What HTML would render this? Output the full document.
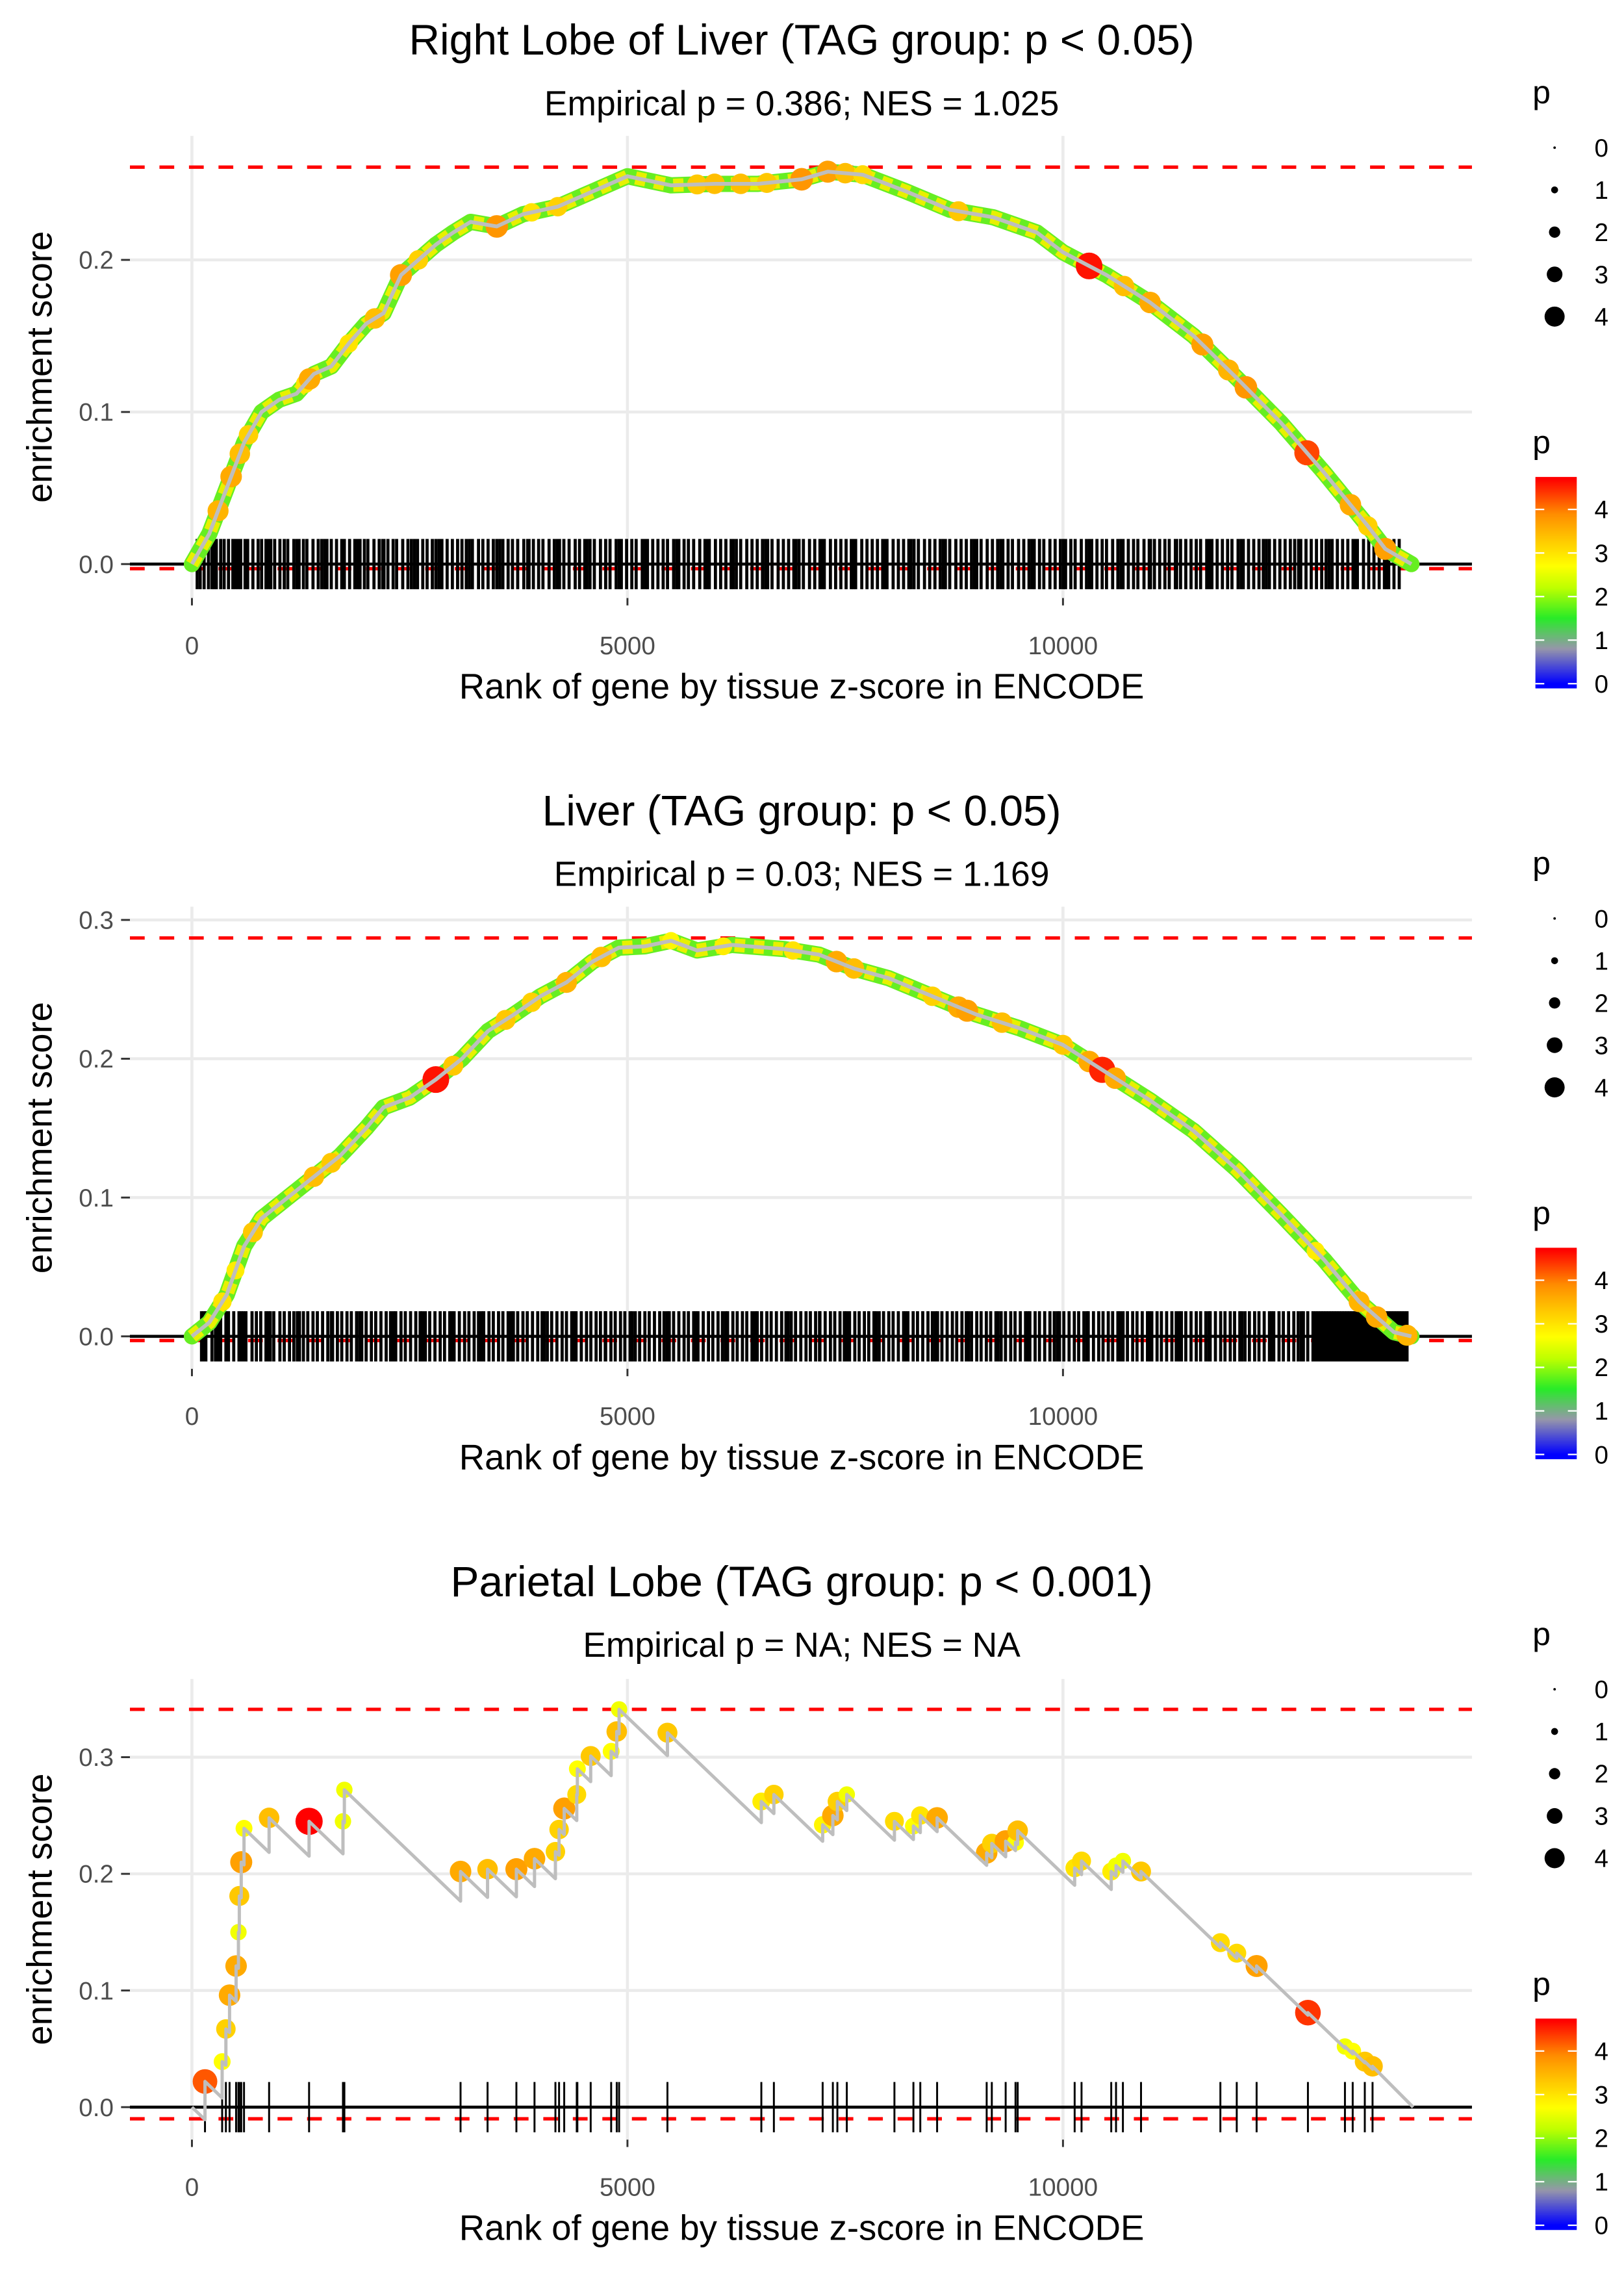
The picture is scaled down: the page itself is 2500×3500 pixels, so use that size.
<!DOCTYPE html>
<html><head><meta charset="utf-8"><style>
html,body{margin:0;padding:0;background:#fff;}
svg{display:block;font-family:"Liberation Sans",Arial,sans-serif;}
</style></head><body>
<svg id="fig" xmlns="http://www.w3.org/2000/svg" width="2500" height="3500" viewBox="0 0 1100 1540">
<rect x="0" y="0" width="1100" height="1540" fill="#fff"/>
</svg>
<script>
// ---------- data ----------
const xTicks = [0, 5000, 10000];
const p1Titles = ["Right Lobe of Liver (TAG group: p < 0.05)", "Empirical p = 0.386; NES = 1.025"];
const p2Titles = ["Liver (TAG group: p < 0.05)", "Empirical p = 0.03; NES = 1.169"];
const p3Titles = ["Parietal Lobe (TAG group: p < 0.001)", "Empirical p = NA; NES = NA"];
const p1YTicks = [0, 0.1, 0.2];
const p2YTicks = [0, 0.1, 0.2, 0.3];
const p3YTicks = [0, 0.1, 0.2, 0.3];
const p1Max = 0.261, p1Min = -0.003;
const p2Max = 0.287, p2Min = -0.003;
const p3Max = 0.341, p3Min = -0.010;

const p1Rank = [0,200,400,600,800,1000,1200,1400,1600,1800,2000,2200,2400,2600,2800,3000,3200,3500,3800,4200,4600,5000,5500,6000,6500,7000,7300,7700,8200,8700,9200,9700,10000,10500,11000,11500,12000,12500,13000,13500,13700,14000];
const p1ES   = [0,0.02,0.05,0.08,0.1,0.108,0.112,0.125,0.13,0.145,0.158,0.165,0.19,0.2,0.21,0.218,0.225,0.222,0.23,0.235,0.245,0.255,0.249,0.25,0.25,0.253,0.258,0.256,0.245,0.233,0.228,0.218,0.205,0.19,0.172,0.15,0.122,0.093,0.06,0.025,0.01,0];
const p1PtRank = [300,450,550,650,1300,1350,1800,2100,2400,2600,3500,3900,4200,5800,6000,6300,6600,7000,7300,7500,7700,8800,10300,10700,11000,11600,11900,12100,12800,13300,13500,13700];
const p1PtP    = [3.5,3.6,3.4,3.2,3.0,3.6,3.0,3.4,3.7,3.2,3.8,3.0,3.2,3.3,3.4,3.4,3.3,3.8,3.7,3.4,3.1,3.3,4.6,3.4,3.6,3.7,3.5,3.8,4.3,3.6,3.2,3.7];
const p1Hits = [60,140,190,230,280,330,370,420,470,500,560,610,640,700,760,800,850,880,950,1010,1060,1100,1170,1230,1280,1320,1390,1450,1490,1550,1600,1660,1720,1750,1810,1870,1930,1980,2020,2090,2150,2190,2250,2310,2350,2420,2480,2520,2590,2650,2700,2760,2800,2870,2930,2990,3050,3100,3150,3220,3290,3340,3400,3460,3500,3570,3630,3680,3740,3810,3870,3920,3980,4030,4100,4160,4220,4270,4330,4400,4450,4510,4570,4620,4690,4750,4800,4870,4930,4990,5050,5100,5170,5230,5290,5350,5410,5460,5530,5590,5650,5700,5760,5830,5890,5940,6010,6070,6130,6190,6250,6300,6370,6430,6490,6550,6610,6660,6730,6790,6850,6910,6970,7020,7090,7150,7210,7260,7330,7390,7450,7510,7570,7620,7690,7750,7810,7870,7930,7980,8050,8110,8170,8230,8290,8340,8410,8470,8530,8590,8650,8700,8770,8830,8890,8950,9010,9060,9130,9190,9250,9310,9370,9420,9490,9550,9610,9670,9730,9780,9850,9910,9970,10030,10090,10140,10210,10270,10330,10390,10450,10500,10570,10630,10690,10750,10810,10860,10930,10990,11050,11110,11170,11220,11290,11350,11410,11470,11530,11580,11650,11710,11770,11830,11890,11940,12010,12070,12130,12190,12250,12300,12370,12430,12490,12550,12610,12660,12730,12790,12850,12910,12970,13020,13090,13150,13210,13270,13330,13380,13450,13510,13570,13630,13690,13740,13800,13860,95,255,530,905,1205,1525,1905,2205,2555,2835,3185,3535,3855,4195,4535,4905,5205,5565,5915,6215,6585,6935,7235,7595,7955,8255,8625,8985,9285,9645,10005,10305,10665,11005,11305,11685,12045,12335,12705,13055,13355,13715];

const p2Rank = [0,200,400,600,800,1000,1200,1400,1700,2000,2200,2500,2800,3100,3400,3700,4000,4300,4600,4900,5200,5500,5800,6200,6800,7200,7600,8000,8500,9000,9500,10000,10500,11000,11500,12000,12500,13000,13400,13800,14000];
const p2ES   = [0,0.01,0.03,0.065,0.085,0.095,0.105,0.115,0.13,0.15,0.165,0.172,0.185,0.2,0.22,0.232,0.245,0.255,0.27,0.28,0.281,0.285,0.278,0.282,0.279,0.275,0.265,0.258,0.245,0.232,0.222,0.21,0.19,0.17,0.148,0.12,0.088,0.055,0.025,0.003,0];
const p2PtRank = [350,500,700,1400,1600,2800,3000,3600,3900,4300,4700,5500,6100,6900,7400,7600,8500,8800,8900,9300,10000,10300,10450,10600,12900,13400,13600,13950];
const p2PtP    = [3.0,2.9,3.3,3.4,3.3,4.6,3.3,3.3,3.2,3.5,3.4,2.8,2.9,3.0,3.6,3.4,3.2,3.6,3.7,3.4,3.3,3.6,4.5,3.6,2.9,3.5,3.6,3.5];
const p2Hits = [110,160,230,270,330,390,420,480,540,590,620,690,740,790,850,900,940,1010,1060,1120,1170,1210,1280,1330,1390,1440,1500,1560,1600,1670,1720,1780,1830,1890,1950,2000,2060,2110,2170,2230,2280,2340,2400,2450,2510,2570,2620,2680,2730,2790,2850,2900,2960,3010,3070,3130,3180,3240,3290,3350,3410,3460,3520,3570,3630,3690,3740,3800,3850,3910,3970,4020,4080,4130,4190,4250,4300,4360,4410,4470,4530,4580,4640,4690,4750,4810,4860,4920,4970,5030,5090,5140,5200,5250,5310,5370,5420,5480,5530,5590,5650,5700,5760,5810,5870,5930,5980,6040,6090,6150,6210,6260,6320,6370,6430,6490,6540,6600,6650,6710,6770,6820,6880,6930,6990,7050,7100,7160,7210,7270,7330,7380,7440,7490,7550,7610,7660,7720,7770,7830,7890,7940,8000,8050,8110,8170,8220,8280,8330,8390,8450,8500,8560,8610,8670,8730,8780,8840,8890,8950,9010,9060,9120,9170,9230,9290,9340,9400,9450,9510,9570,9620,9680,9730,9790,9850,9900,9960,10010,10070,10130,10180,10240,10290,10350,10410,10460,10520,10570,10630,10690,10740,10800,10850,10910,10970,11020,11080,11130,11190,11250,11300,11360,11410,11470,11530,11580,11640,11690,11750,11810,11860,11920,11970,12030,12090,12140,12200,12250,12310,12370,12420,12480,12530,12590,12650,12700,12760,12810,12870,12900,12930,12960,12990,13020,13050,13080,13110,13140,13170,13200,13230,13260,13290,13320,13350,13380,13410,13440,13470,13500,13530,13560,13590,13620,13650,13680,13710,13740,13770,13800,13830,13860,13890,13920,13950,135,305,565,875,1235,1615,1925,2315,2645,2985,3325,3665,4045,4385,4745,5055,5455,5785,6125,6465,6845,7205,7515,7855,8195,8535,8915,9255,9595,9935,10275,10655,10995,11335,11675,12055,12395,12735];

const p3HitRank = [150,347,390,432,507,534,544,566,598,886,1345,1734,1750,3084,3394,3725,3933,4173,4215,4274,4418,4425,4578,4813,4877,4904,5459,6537,6681,7241,7358,7410,7518,8065,8283,8362,8555,9124,9183,9342,9455,9480,10134,10213,10554,10609,10688,10896,11807,11995,12223,12812,13237,13326,13465,13554];
const p3HitES   = [0.022,0.039,0.067,0.096,0.121,0.150,0.181,0.210,0.239,0.248,0.245,0.245,0.272,0.202,0.204,0.204,0.213,0.219,0.238,0.256,0.268,0.290,0.301,0.305,0.322,0.341,0.321,0.262,0.268,0.242,0.250,0.262,0.268,0.245,0.241,0.250,0.248,0.218,0.226,0.228,0.227,0.237,0.205,0.211,0.202,0.207,0.211,0.202,0.141,0.132,0.121,0.081,0.052,0.048,0.039,0.035];
const p3HitP    = [4.2,2.7,3.2,3.6,3.6,2.6,3.3,3.7,2.7,3.4,4.7,2.6,2.6,3.6,3.4,3.7,3.6,3.2,3.2,3.7,3.1,2.7,3.3,2.7,3.4,2.6,3.3,2.9,3.2,2.8,3.6,3.2,2.6,3.1,2.7,3.0,3.6,3.6,3.2,3.7,2.7,3.4,3.0,3.1,2.9,2.6,2.6,3.3,3.1,3.1,3.7,4.4,2.6,2.7,3.3,3.4];
const p3EndRank = 14020;
const p3Slope = 7.15e-5;

const legendSizes = [0,1,2,3,4];
const colorbarTicks = [0,1,2,3,4];

// ---------- helpers ----------
const NS = "http://www.w3.org/2000/svg";
const svg = document.getElementById("fig");
function mk(tag, attrs, parent){
  const e = document.createElementNS(NS, tag);
  for (const k in attrs) e.setAttribute(k, attrs[k]);
  (parent||svg).appendChild(e);
  return e;
}
const xScale = r => 130 + r / 5000 * 295;
const stops = [[0,[0,0,255]],[0.8,[150,150,170]],[1.5,[40,235,40]],[2.2,[190,255,0]],[2.7,[255,255,0]],[3.3,[255,200,0]],[3.9,[255,140,0]],[4.7,[255,0,0]]];
function pColor(p){
  if (p <= stops[0][0]) return "rgb(0,0,255)";
  for (let i=1;i<stops.length;i++){
    if (p <= stops[i][0]){
      const a=stops[i-1], b=stops[i], t=(p-a[0])/(b[0]-a[0]);
      const c=a[1].map((v,j)=>Math.round(v+(b[1][j]-v)*t));
      return "rgb("+c.join(",")+")";
    }
  }
  return "rgb(255,0,0)";
}
const pRadius = p => 1 + p * 1.75;
function interp(ranks, es, r){
  for (let i=1;i<ranks.length;i++){
    if (r <= ranks[i]){
      const t=(r-ranks[i-1])/(ranks[i]-ranks[i-1]);
      return es[i-1]+(es[i]-es[i-1])*t;
    }
  }
  return es[es.length-1];
}

function drawPanel(idx, off, titles, yTicks, y0, k, top, bottom, maxES, minES){
  const g = mk("g", {});
  
  
  const yS = v => y0 - v * k;
  yTicks.forEach(v=>{
    const l = mk("line",{x1:88,x2:997,y1:yS(v),y2:yS(v),stroke:"#ebebeb","stroke-width":2},g);
    
    
  });
  xTicks.forEach(v=>{
    const l = mk("line",{x1:xScale(v),x2:xScale(v),y1:top,y2:bottom,stroke:"#ebebeb","stroke-width":2},g);
    
    
  });
  const t1 = mk("text",{x:543,y:off+37,"font-size":29,"text-anchor":"middle",fill:"#000"},g);
  t1.textContent = titles[0];
  
  
  const t2 = mk("text",{x:543,y:off+78,"font-size":23.5,"text-anchor":"middle",fill:"#000"},g);
  t2.textContent = titles[1];
  
  
  yTicks.forEach(v=>{
    const tl = mk("text",{x:77,y:yS(v)+6,"font-size":17,"text-anchor":"end",fill:"#4d4d4d"},g);
    tl.textContent = v.toFixed(1);
    
    
    mk("line",{x1:82,x2:88,y1:yS(v),y2:yS(v),stroke:"#333","stroke-width":1.3},g);
  });
  xTicks.forEach(v=>{
    const tl = mk("text",{x:xScale(v),y:bottom+38,"font-size":17,"text-anchor":"middle",fill:"#4d4d4d"},g);
    tl.textContent = String(v);
    
    
    mk("line",{x1:xScale(v),x2:xScale(v),y1:bottom,y2:bottom+5,stroke:"#333","stroke-width":1.3},g);
  });
  const xt = mk("text",{x:543,y:bottom+68,"font-size":24,"text-anchor":"middle",fill:"#000"},g);
  xt.textContent = "Rank of gene by tissue z-score in ENCODE";
  
  
  const cy = (top+bottom)/2;
  const yt = mk("text",{x:0,y:0,"font-size":24,"text-anchor":"middle",fill:"#000",transform:"translate(35,"+cy+") rotate(-90)"},g);
  yt.textContent = "enrichment score";
  
  
  [maxES, minES].forEach((v,i)=>{
    const d = mk("line",{x1:88,x2:997,y1:yS(v),y2:yS(v),stroke:"#ff0000","stroke-width":2.3,"stroke-dasharray":"10 10"},g);
    
    
  });
  const lp = mk("text",{x:1038,y:off+70,"font-size":22,fill:"#000"},g);
  lp.textContent = "p";
  
  
  legendSizes.forEach((s,i)=>{
    const yy = off + 100 + i*28.6;
    const c = mk("circle",{cx:1053,cy:yy,r:pRadius(s)*0.85,fill:"#000"},g);
    
    
    const tl = mk("text",{x:1080,y:yy+6,"font-size":17,fill:"#000"},g);
    tl.textContent = String(s);
    
    
  });
  const lc = mk("text",{x:1038,y:off+307,"font-size":22,fill:"#000"},g);
  lc.textContent = "p";
  
  
  const cbTop = off+323, cbBot = off+466, per = 29.5;
  for (let yy = cbTop; yy < cbBot; yy += 1){
    const pv = (off+463 - yy - 0.5)/per;
    mk("rect",{x:1040,y:yy,width:28,height:1.2,fill:pColor(pv)},g);
  }
  const cb = mk("rect",{x:1040,y:cbTop,width:28,height:cbBot-cbTop,fill:"none"},g);
  
  
  colorbarTicks.forEach(v=>{
    const yy = off + 463 - v*per;
    mk("line",{x1:1040,x2:1046,y1:yy,y2:yy,stroke:"#fff","stroke-width":1},g);
    mk("line",{x1:1062,x2:1068,y1:yy,y2:yy,stroke:"#fff","stroke-width":1},g);
    const tl = mk("text",{x:1080,y:yy+6,"font-size":17,fill:"#000"},g);
    tl.textContent = String(v);
    
    
  });
  return {g, yS};
}

function densePanel(P, ranks, es, ptR, ptP, hits){
  const {g, yS} = P;
  hits.forEach(r=>{
    const b = mk("line",{x1:xScale(r),x2:xScale(r),y1:yS(0)-17,y2:yS(0)+17,stroke:"#000","stroke-width":2.1},g);
    
    
  });
  const base = mk("line",{x1:88,x2:997,y1:yS(0),y2:yS(0),stroke:"#000","stroke-width":2},g);
  
  
  const pts = ranks.map((r,i)=>xScale(r)+","+yS(es[i])).join(" ");
  const o = mk("polyline",{points:pts,fill:"none",stroke:"#66ee22","stroke-width":11,"stroke-linejoin":"round","stroke-linecap":"round"},g);
  
  
  const o2 = mk("polyline",{points:pts,fill:"none",stroke:"#e8f000","stroke-width":9,"stroke-linejoin":"round","stroke-dasharray":"7 6"},g);
  
  
  ptR.forEach((r,i)=>{
    const c = mk("circle",{cx:xScale(r),cy:yS(interp(ranks,es,r)),r:pRadius(ptP[i]),fill:pColor(ptP[i])},g);
    
    
  });
  const l = mk("polyline",{points:pts,fill:"none",stroke:"#bebebe","stroke-width":2.6,"stroke-linejoin":"round"},g);
  
  
}

const P1 = drawPanel(1, 0, p1Titles, p1YTicks, 382, 1030, 92, 405, p1Max, p1Min);
densePanel(P1, p1Rank, p1ES, p1PtRank, p1PtP, p1Hits);
const P2 = drawPanel(2, 522, p2Titles, p2YTicks, 905, 940, 614, 927, p2Max, p2Min);
densePanel(P2, p2Rank, p2ES, p2PtRank, p2PtP, p2Hits);

const P3 = drawPanel(3, 1044, p3Titles, p3YTicks, 1427, 790, 1137, 1449, p3Max, p3Min);
(function(){
  const {g, yS} = P3;
  p3HitRank.forEach(r=>{
    const b = mk("line",{x1:xScale(r),x2:xScale(r),y1:yS(0)-17,y2:yS(0)+17,stroke:"#000","stroke-width":1.3},g);
    
    
  });
  const base = mk("line",{x1:88,x2:997,y1:yS(0),y2:yS(0),stroke:"#000","stroke-width":2},g);
  
  
  let pts = [[xScale(0), yS(0)]];
  let prevR = 0, prevES = 0;
  p3HitRank.forEach((r,i)=>{
    const bottomES = prevES - p3Slope*(r-prevR);
    pts.push([xScale(r), yS(bottomES)]);
    pts.push([xScale(r), yS(p3HitES[i])]);
    prevR = r; prevES = p3HitES[i];
  });
  pts.push([xScale(p3EndRank), yS(0)]);
  p3HitRank.forEach((r,i)=>{
    const c = mk("circle",{cx:xScale(r),cy:yS(p3HitES[i]),r:pRadius(p3HitP[i]),fill:pColor(p3HitP[i])},g);
    
    
  });
  const l = mk("polyline",{points:pts.map(p=>p.join(",")).join(" "),fill:"none",stroke:"#bebebe","stroke-width":2.2,"stroke-linejoin":"round"},g);
  
  
})();
</script>
</body></html>
